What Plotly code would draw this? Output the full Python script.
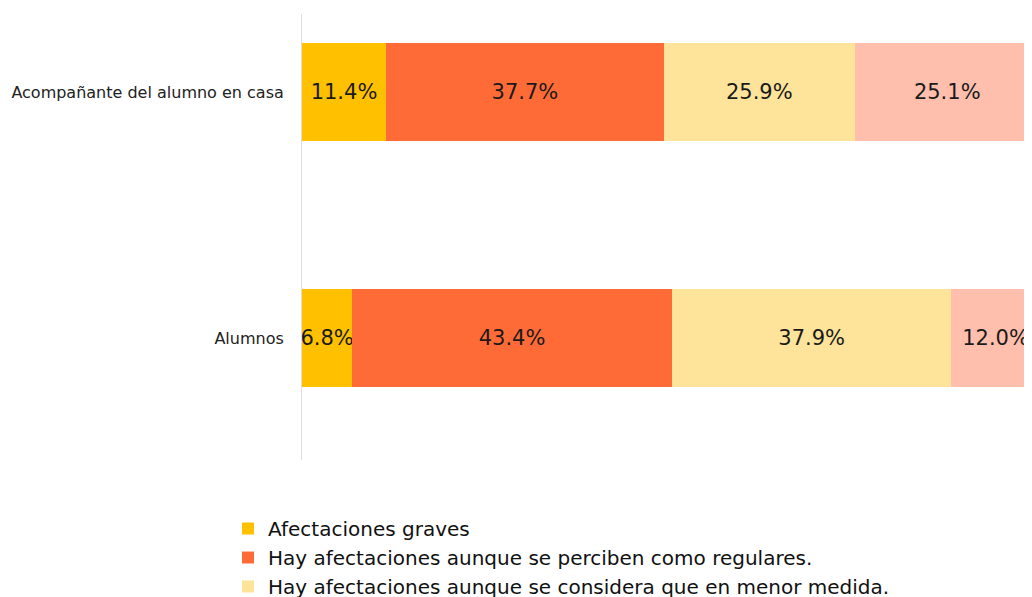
import plotly.graph_objects as go

categories = ["Alumnos", "Acompañante del alumno en casa"]
series_names = [
    "Afectaciones graves",
    "Hay afectaciones aunque se perciben como regulares.",
    "Hay afectaciones aunque se considera que en menor medida.",
    "No hay afectaciones.",
]
afect_graves = [6.8, 11.4]
afect_regulares = [43.4, 37.7]
afect_menor = [37.9, 25.9]
sin_afect = [12.0, 25.1]
colors = ["#FFC000", "#FF6B37", "#FDE49A", "#FFBFAC"]

series_values = [afect_graves, afect_regulares, afect_menor, sin_afect]

FONT = "DejaVu Sans"
fig = go.Figure()
for name, vals, col in zip(series_names, series_values, colors):
    fig.add_trace(go.Bar(
        y=categories, x=vals, name=name, orientation="h",
        marker=dict(color=col, line=dict(width=0)),
        text=[f"{v:.1f}%" for v in vals],
        textposition="inside", insidetextanchor="middle",
        constraintext="none", textangle=0,
        textfont=dict(family=FONT, size=21, color="#1a1a1a"),
        hoverinfo="x+name",
    ))

fig.update_layout(
    width=1032, height=597,
    barmode="stack", bargap=0.6,
    paper_bgcolor="white", plot_bgcolor="white",
    margin=dict(l=294, r=1, t=6, b=145, autoexpand=False),
    font=dict(family=FONT, size=16, color="#222"),
    showlegend=True,
    legend=dict(
        orientation="v", x=-0.1004, xanchor="left", y=-0.1099, yanchor="top",
        font=dict(family=FONT, size=20, color="#111"),
        traceorder="normal", itemwidth=30, tracegroupgap=0,
        maxheight=200,
    ),
    xaxis=dict(range=[0, 100], showgrid=False, showticklabels=False,
               zeroline=False, showline=False, fixedrange=True),
    yaxis=dict(range=[-0.496, 1.317], showgrid=False, showline=True,
               linecolor="#dddddd", linewidth=1, ticks="",
               ticklabelstandoff=14,
               tickfont=dict(family=FONT, size=16, color="#222")),
)

fig.write_html("out.html")
